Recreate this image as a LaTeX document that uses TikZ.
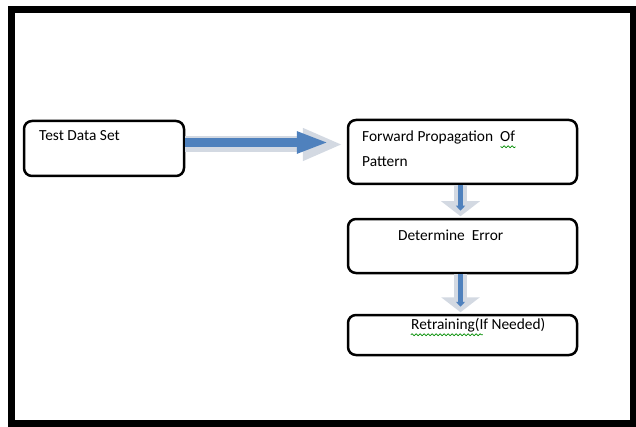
\documentclass[tikz,border=0pt]{standalone}
\usepackage{fontspec}
\setmainfont{Carlito}
\usetikzlibrary{arrows.meta,positioning,decorations.pathmorphing}
\definecolor{flowblue}{HTML}{4F81BD}
\definecolor{flowshade}{HTML}{D3D9E2}

\begin{document}
\begin{tikzpicture}[
  x=0.5pt, y=-0.5pt,
  box/.style={rectangle, draw, line width=1.25pt, rounded corners=4pt, inner sep=0pt},
  txt/.style={inner sep=0pt, font=\fontsize{7.7}{12.5}\selectfont, align=left},
  hshade/.style={flowshade, line width=8pt, -{Triangle[width=15pt,length=20pt]}, shorten >=2pt},
  hflow/.style={flowblue, line width=4.5pt, -{Triangle[width=10pt,length=16pt]}, shorten >=9pt},
  vshade/.style={flowshade, line width=6.5pt, -{Triangle[width=19pt,length=7.5pt]}, shorten >=0.75pt},
  vflow/.style={flowblue, line width=2.6pt, -{Triangle[width=4.5pt,length=2.5pt]}, shorten >=3.5pt},
  squiggle/.style={green!55!black, line width=0.35pt, decorate, decoration={snake, segment length=2pt, amplitude=0.5pt}}
]
  \useasboundingbox (0,0) rectangle (636,427);
  \draw[line width=3.5pt] (11,9.5) rectangle (633.5,423.5);

  \node[box, minimum width=80pt, minimum height=27.5pt] (test) at (104,148.5) {};
  \node[box, minimum width=114.5pt, minimum height=32pt] (fwd) at (462.5,152) {};
  \node[box, minimum width=114.5pt, minimum height=27pt] (err) at (462.5,246) {};
  \node[box, minimum width=114.5pt, minimum height=20pt] (retr) at (462.5,335) {};

  \node[txt, anchor=base west] (testtxt) at ([shift={(8pt,-10.5pt)}]test.north west) {Test Data Set};
  \node[txt, anchor=north west] (fwdtxt) at ([shift={(7.5pt,-5.75pt)}]fwd.north west) {Forward Propagation~ Of\\Pattern};
  \node[txt, anchor=base west] (errtxt) at ([shift={(25.5pt,-11.5pt)}]err.north west) {Determine~ Error};
  \node[txt, anchor=base west] (retrtxt) at ([shift={(32pt,-8pt)}]retr.north west) {Retraining(If Needed)};

  % block arrows
  \draw[hshade] ([yshift=2pt]test.east) -- ([yshift=2pt]test.east -| fwd.west);
  \draw[hflow] ([yshift=3pt]test.east) -- ([yshift=3pt]test.east -| fwd.west);
  \draw[vshade] ([xshift=-1pt]fwd.south) -- ([xshift=-1pt]err.north);
  \draw[vflow] ([xshift=-1pt]fwd.south) -- ([xshift=-1pt]err.north);
  \draw[vshade] ([xshift=-1pt]err.south) -- ([xshift=-1pt]retr.north);
  \draw[vflow] ([xshift=-1pt]err.south) -- ([xshift=-1pt]retr.north);

  % spelling marks
  \draw[squiggle] ([yshift=-8.25pt]fwdtxt.north east) -- ++(-7.5pt,0);
  \draw[squiggle] ([yshift=-2.5pt]retrtxt.base west) -- ++(36pt,0);
\end{tikzpicture}
\end{document}
